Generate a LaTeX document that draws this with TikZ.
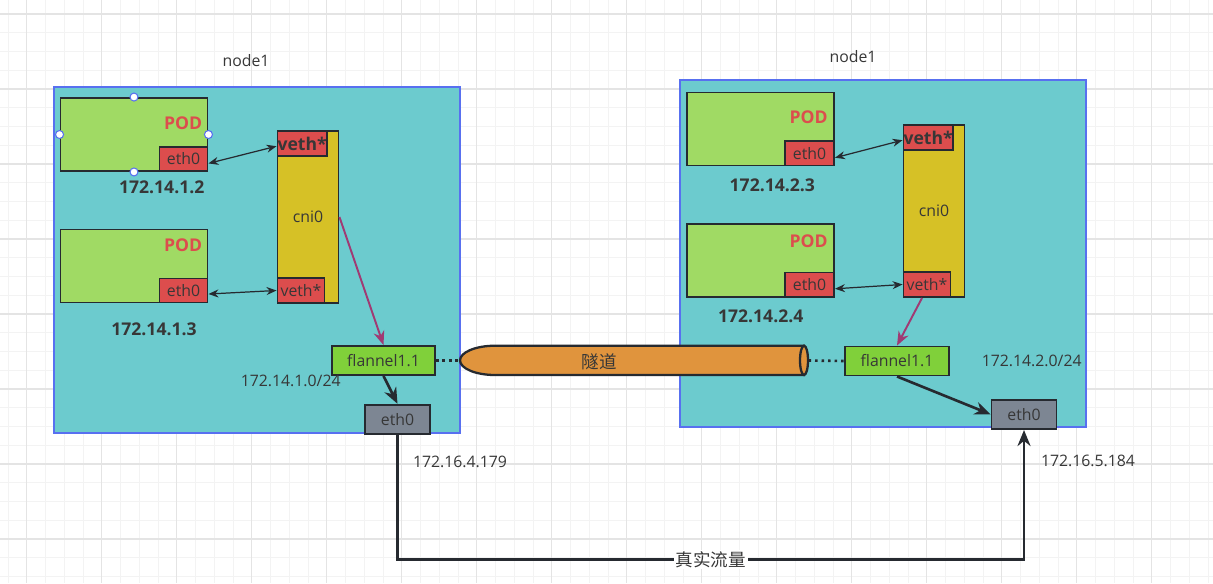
\documentclass[tikz,border=0pt]{standalone}
\usepackage{fontspec}
\setmainfont{Open Sans}
\newfontfamily\cjk{Noto Sans CJK SC}
\usepackage{tikz}
\usetikzlibrary{arrows.meta, positioning, calc}
\definecolor{cTeal}{RGB}{108,203,206}
\definecolor{cBlue}{RGB}{88,112,240}
\definecolor{cDark}{RGB}{38,42,48}
\definecolor{cText}{RGB}{55,55,55}
\definecolor{cPod}{RGB}{160,218,100}
\definecolor{cRed}{RGB}{220,77,77}
\definecolor{cYellow}{RGB}{214,193,38}
\definecolor{cFlannel}{RGB}{128,208,58}
\definecolor{cNic}{RGB}{125,134,147}
\definecolor{cOrange}{RGB}{224,148,61}
\definecolor{cPurple}{RGB}{160,58,115}
\definecolor{cGridMinor}{RGB}{243,243,243}
\definecolor{cGridMajor}{RGB}{228,228,228}
\tikzset{
	hostbox/.style ={rectangle, draw=cBlue, line width=1.2pt, fill=cTeal, minimum width=8.12cm, minimum height=6.93cm},
	pod/.style     ={rectangle, draw=cDark, line width=1.1pt, fill=cPod, minimum width=2.94cm, minimum height=1.46cm},
	ifbox/.style   ={rectangle, draw=cDark, line width=1.1pt, fill=cRed, inner sep=0pt, text=cText},
	bridge/.style  ={rectangle, draw=cDark, line width=1.1pt, fill=cYellow, minimum width=1.22cm, minimum height=3.44cm, text=cText},
	flbox/.style   ={rectangle, draw=cDark, line width=1.1pt, fill=cFlannel, minimum width=2.06cm, minimum height=0.58cm, inner sep=0pt, text=cText},
	nic/.style     ={rectangle, draw=cDark, line width=1.1pt, fill=cNic, minimum width=1.3cm, minimum height=0.59cm, inner sep=0pt, text=cText},
	podtxt/.style  ={anchor=east, inner sep=0pt, text=cRed, font=\bfseries},
	iplabel/.style ={text=cText, font=\bfseries},
	netlabel/.style={text=cText},
	handle/.style  ={circle, draw=cBlue, fill=white, line width=0.6pt, inner sep=0pt, minimum size=0.16cm},
	% connectors
	sig/.style     ={{Stealth[length=2mm,width=1.6mm]}-{Stealth[length=2mm,width=1.6mm]}, draw=cDark, line width=0.7pt},
	vxlan/.style   ={-{Stealth[length=2.8mm,width=2.2mm]}, draw=cPurple, line width=1.1pt},
	link/.style    ={-{Stealth[length=3.2mm,width=2.6mm]}, draw=cDark, line width=1.5pt},
	tube/.style    ={draw=cDark, line width=1.3pt, fill=cOrange},
	dotline/.style ={draw=cDark, line width=1.5pt, dash pattern=on 1.5pt off 2.2pt},
}
\begin{document}
\begin{tikzpicture}[x=0.02cm, y=-0.02cm, font=\fontsize{9}{11}\selectfont]
	\useasboundingbox (0,0) rectangle (1213,583);
	\fill[white] (0,0) rectangle (1213,583);
	% grid
	\foreach \i in {0,...,64} {\draw[cGridMinor, line width=0.5pt] ({8+18.75*\i},0) -- ({8+18.75*\i},583);}
	\foreach \i in {0,...,30} {\draw[cGridMinor, line width=0.5pt] (0,{14+18.75*\i}) -- (1213,{14+18.75*\i});}
	\foreach \i in {0,...,15} {\draw[cGridMajor, line width=0.6pt] ({26.75+75*\i},0) -- ({26.75+75*\i},583);}
	\foreach \i in {0,...,7} {\draw[cGridMajor, line width=0.6pt] (0,{14+75*\i}) -- (1213,{14+75*\i});}

	% left host
	\node[hostbox] (hostA) at (257,260) {};
	\node[netlabel] (nameA) at (246,61) {node1};
	\node[pod] (podA1) at (134,134.5) {};
	\node[pod] (podA2) at (134,266) {};
	\node[ifbox, anchor=south east, minimum width=0.96cm, minimum height=0.48cm] (ethA1) at (podA1.south east) {eth0};
	\node[ifbox, anchor=south east, minimum width=0.96cm, minimum height=0.48cm] (ethA2) at (podA2.south east) {eth0};
	\node[podtxt] (podtA1) at ($(podA1.north east)+(-6,26)$) {POD};
	\node[podtxt] (podtA2) at ($(podA2.north east)+(-6,17)$) {POD};
	\node[iplabel] (ipA1) at (161.7,187.7) {172.14.1.2};
	\node[iplabel] (ipA2) at (154,329.3) {172.14.1.3};
	\node[bridge] (cniA) at (308,217) {cni0};
	\node[ifbox, anchor=north west, minimum width=0.94cm, minimum height=0.5cm, font=\bfseries] (vethA1) at (cniA.north west) {veth*};
	\node[ifbox, anchor=south west, minimum width=0.94cm, minimum height=0.5cm] (vethA2) at (cniA.south west) {veth*};
	\node[flbox] (flA) at (383.5,360.5) {flannel1.1};
	\node[netlabel] (netA) at (290.7,381) {172.14.1.0/24};
	\node[nic] (nicA) at (397.5,419.5) {eth0};
	\node[netlabel] (pubA) at (460,462) {172.16.4.179};
	\foreach \a in {north, west, east, south} {\node[handle] at (podA1.\a) {};}

	% right host
	\node[hostbox] (hostB) at (883,253.5) {};
	\node[netlabel] (nameB) at (853,57) {node1};
	\node[pod] (podB1) at (760.5,129) {};
	\node[pod] (podB2) at (760.5,260.5) {};
	\node[ifbox, anchor=south east, minimum width=0.98cm, minimum height=0.49cm] (ethB1) at (podB1.south east) {eth0};
	\node[ifbox, anchor=south east, minimum width=0.98cm, minimum height=0.49cm] (ethB2) at (podB2.south east) {eth0};
	\node[podtxt] (podtB1) at ($(podB1.north east)+(-7,26)$) {POD};
	\node[podtxt] (podtB2) at ($(podB2.north east)+(-7,18)$) {POD};
	\node[iplabel] (ipB1) at (772.3,185) {172.14.2.3};
	\node[iplabel] (ipB2) at (760.7,316) {172.14.2.4};
	\node[bridge] (cniB) at (934,211) {cni0};
	\node[ifbox, anchor=north west, minimum width=0.94cm, minimum height=0.5cm, font=\bfseries] (vethB1) at (cniB.north west) {veth*};
	\node[ifbox, anchor=south west, minimum width=0.94cm, minimum height=0.5cm] (vethB2) at (cniB.south west) {veth*};
	\node[flbox, minimum width=2.08cm] (flB) at (897,361) {flannel1.1};
	\node[netlabel] (netB) at (1031.7,361) {172.14.2.0/24};
	\node[nic] (nicB) at (1024,414.3) {eth0};
	\node[netlabel] (pubB) at (1088,461) {172.16.5.184};

	% tunnel
	\draw[tube] (804,345.7) -- (495,345.7) arc[start angle=90, end angle=270, x radius=0.7cm, y radius=0.293cm] -- (804,375) -- cycle;
	\draw[tube] (804,360.35) ellipse [x radius=0.08cm, y radius=0.293cm];
	\node[text=cText, font=\cjk] (tunnel) at (599,361.7) {隧道};
	\coordinate (tunL) at (460,360.5);
	\coordinate (tunR) at (808.5,360.5);

	% connectors
	\draw[sig] (ethA1.-10) -- (vethA1.186);
	\draw[sig] (ethA2.-8) -- (vethA2.west);
	\draw[sig] (ethB1.-10) -- (vethB1.186);
	\draw[sig] (ethB2.-9) -- (vethB2.west);
	\draw[vxlan] (cniA.east) -- (flA.north);
	\draw[vxlan] ([xshift=-0.1cm]vethB2.south) -- (flB.north);
	\draw[link] (flA.south) -- (nicA.north);
	\draw[link] (flB.south) -- (nicB.west);
	\draw[dotline] (flA.east) -- (tunL);
	\draw[dotline] (tunR) -- (flB.west);
	\coordinate (low) at (0,559.5);
	\draw[link] (nicA.south) -- (nicA.south |- low) -- node[fill=white, inner sep=1pt, text=cText, font=\cjk] (real) {真实流量} (nicB.south |- low) -- (nicB.south);
\end{tikzpicture}
\end{document}
